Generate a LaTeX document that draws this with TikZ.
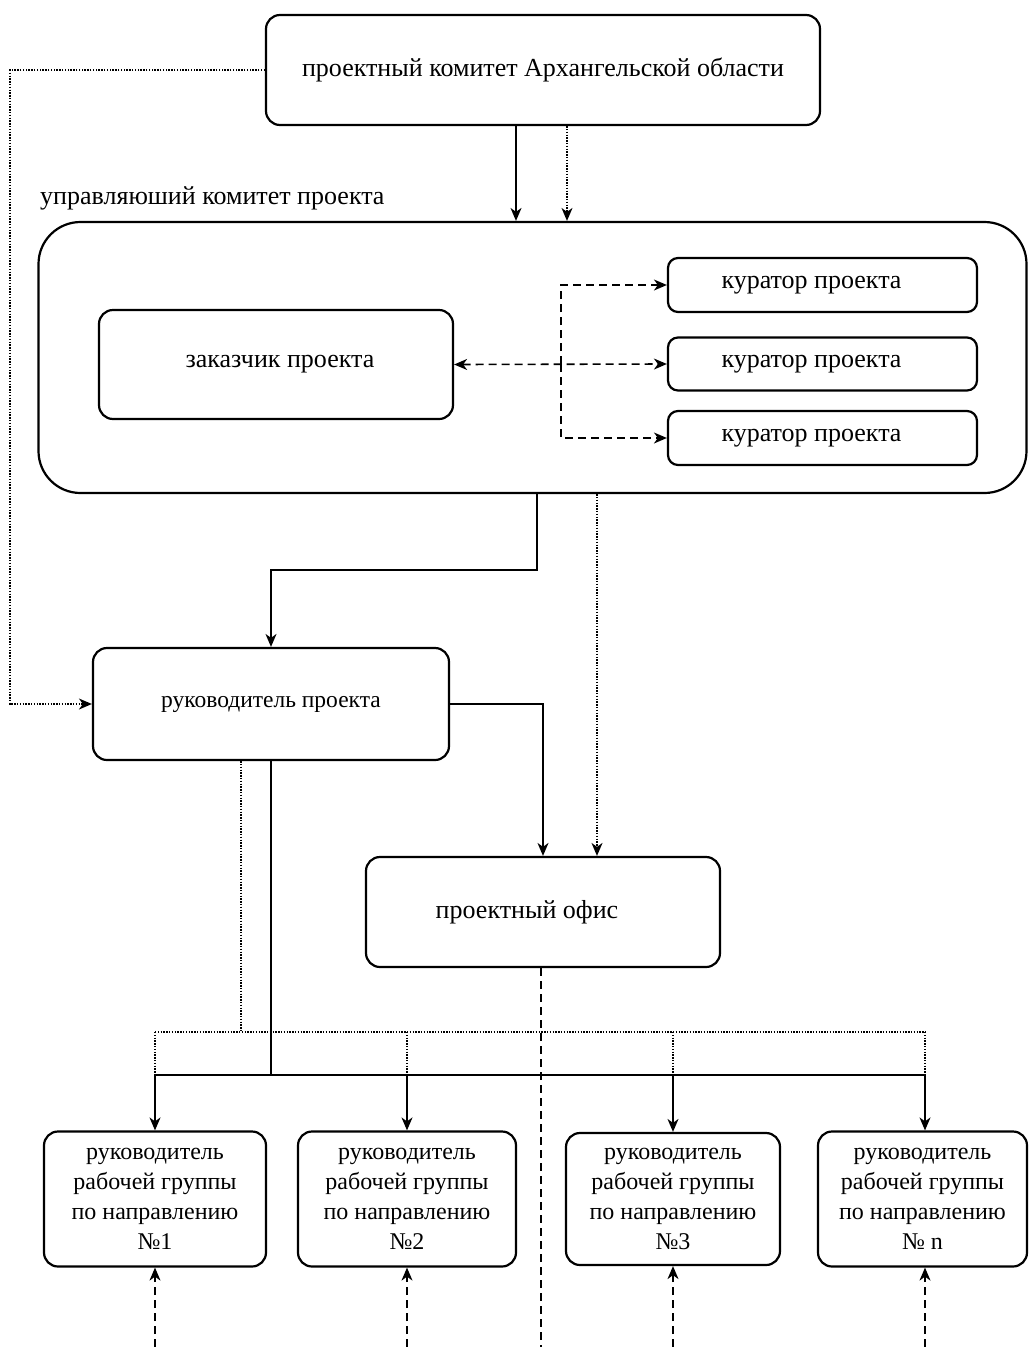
\documentclass[tikz,border=0pt]{standalone}
\usepackage{fontspec}
\setmainfont{Liberation Serif}
\usetikzlibrary{arrows.meta,calc}
\tikzset{
  box/.style={draw,line width=2.2pt,rounded corners=14pt,inner sep=0pt,align=center,font=\fontsize{26}{30}\selectfont},
  smallbox/.style={box,font=\fontsize{24}{30}\selectfont},
  solidc/.style={line width=1.5pt},
  dotc/.style={line width=1.4pt,dash pattern=on 1.4pt off 1.4pt},
  dashc/.style={line width=1.6pt,dash pattern=on 8pt off 5pt},
  tip/.style={-{Stealth[length=13pt,width=11pt,inset=4pt]}},
  tipb/.style={{Stealth[length=13pt,width=11pt,inset=4pt]}-{Stealth[length=13pt,width=11pt,inset=4pt]}},
}
\begin{document}
\begin{tikzpicture}[x=1pt,y=-1pt]
\useasboundingbox (0,0) rectangle (1029,1347);
% nodes
\node[box,minimum width=554pt,minimum height=110pt] (top) at (543,70) {проектный комитет Архангельской области};
\node[anchor=west,font=\fontsize{26}{30}\selectfont,inner sep=0pt] (lbl) at (40,198) {управляюший комитет проекта};
\node[box,rounded corners=42pt,minimum width=988pt,minimum height=271pt] (big) at (532.5,357.5) {};
\node[box,minimum width=354pt,minimum height=109pt] (zak) at (276,364.5) {\hspace*{8pt}заказчик проекта};
\node[box,rounded corners=10pt,minimum width=309pt,minimum height=54pt] (k1) at (822.5,285) {куратор проекта\hspace*{22pt}};
\node[box,rounded corners=10pt,minimum width=309pt,minimum height=53pt] (k2) at (822.5,364) {куратор проекта\hspace*{22pt}};
\node[box,rounded corners=10pt,minimum width=309pt,minimum height=54pt] (k3) at (822.5,438) {куратор проекта\hspace*{22pt}};
\node[box,font=\fontsize{23.5}{30}\selectfont,minimum width=356pt,minimum height=112pt] (ruk) at (271,704) {руководитель проекта};
\node[box,minimum width=354pt,minimum height=110pt] (ofis) at (543,912) {проектный офис\hspace*{32pt}};
\node[smallbox,minimum width=222pt,minimum height=135pt] (b1) at (155,1199) {руководитель\\рабочей группы\\по направлению\\№1};
\node[smallbox,minimum width=218pt,minimum height=135pt] (b2) at (407,1199) {руководитель\\рабочей группы\\по направлению\\№2};
\node[smallbox,minimum width=214pt,minimum height=132pt] (b3) at (673,1199) {руководитель\\рабочей группы\\по направлению\\№3};
\node[smallbox,minimum width=209pt,minimum height=135pt] (b4) at (922.5,1199) {руководитель\\рабочей группы\\по направлению\\№ n};
% coordinates
\coordinate (cl) at (10,70);
\coordinate (m1) at (537,570);
\coordinate (dv) at (561,364);
\coordinate (e1) at (155,1347);
\coordinate (e2) at (407,1347);
\coordinate (e3) at (673,1347);
\coordinate (e4) at (925,1347);
\coordinate (eo) at (541,1347);
% top connections
\draw[dotc,tip] (top.west) -- (cl) |- (ruk.west);
\draw[solidc,tip] (top.south -| 516,0) -- (big.north -| 516,0);
\draw[dotc,tip] (top.south -| 567,0) -- (big.north -| 567,0);
% curators
\draw[dashc,tipb] (zak.east) -- (k2.west);
\draw[dashc,tip] (dv) |- (k1.west);
\draw[dashc,tip] (dv) |- (k3.west);
% big box down
\draw[solidc,tip] (big.south -| m1) -- (m1) -| (ruk.north);
\draw[dotc,tip] (big.south -| 597,0) -- (ofis.north -| 597,0);
\draw[solidc,tip] (ruk.east) -| (ofis.north -| 543,0);
% office dashed
\draw[dashc] (ofis.south -| eo) -- (eo);
% distribution
\draw[dotc] (ruk.south -| 241,0) -- (241,1032) -- (925,1032);
\draw[dotc] (155,1032) -- (241,1032);
\draw[dotc] (155,1032) -- (155,1075);
\draw[dotc] (407,1032) -- (407,1075);
\draw[dotc] (673,1032) -- (673,1075);
\draw[dotc] (925,1032) -- (925,1075);
\draw[solidc] (ruk.south -| 271,0) -- (271,1075);
\draw[solidc] (155,1075) -- (925,1075);
\draw[solidc,tip] (155,1075) -- (b1.north);
\draw[solidc,tip] (407,1075) -- (b2.north);
\draw[solidc,tip] (673,1075) -- (b3.north);
\draw[solidc,tip] (925,1075) -- (b4.north -| 925,0);
% bottom dashed
\draw[dashc,tip] (e1) -- (b1.south);
\draw[dashc,tip] (e2) -- (b2.south);
\draw[dashc,tip] (e3) -- (b3.south);
\draw[dashc,tip] (e4) -- (b4.south -| e4);
\end{tikzpicture}
\end{document}
